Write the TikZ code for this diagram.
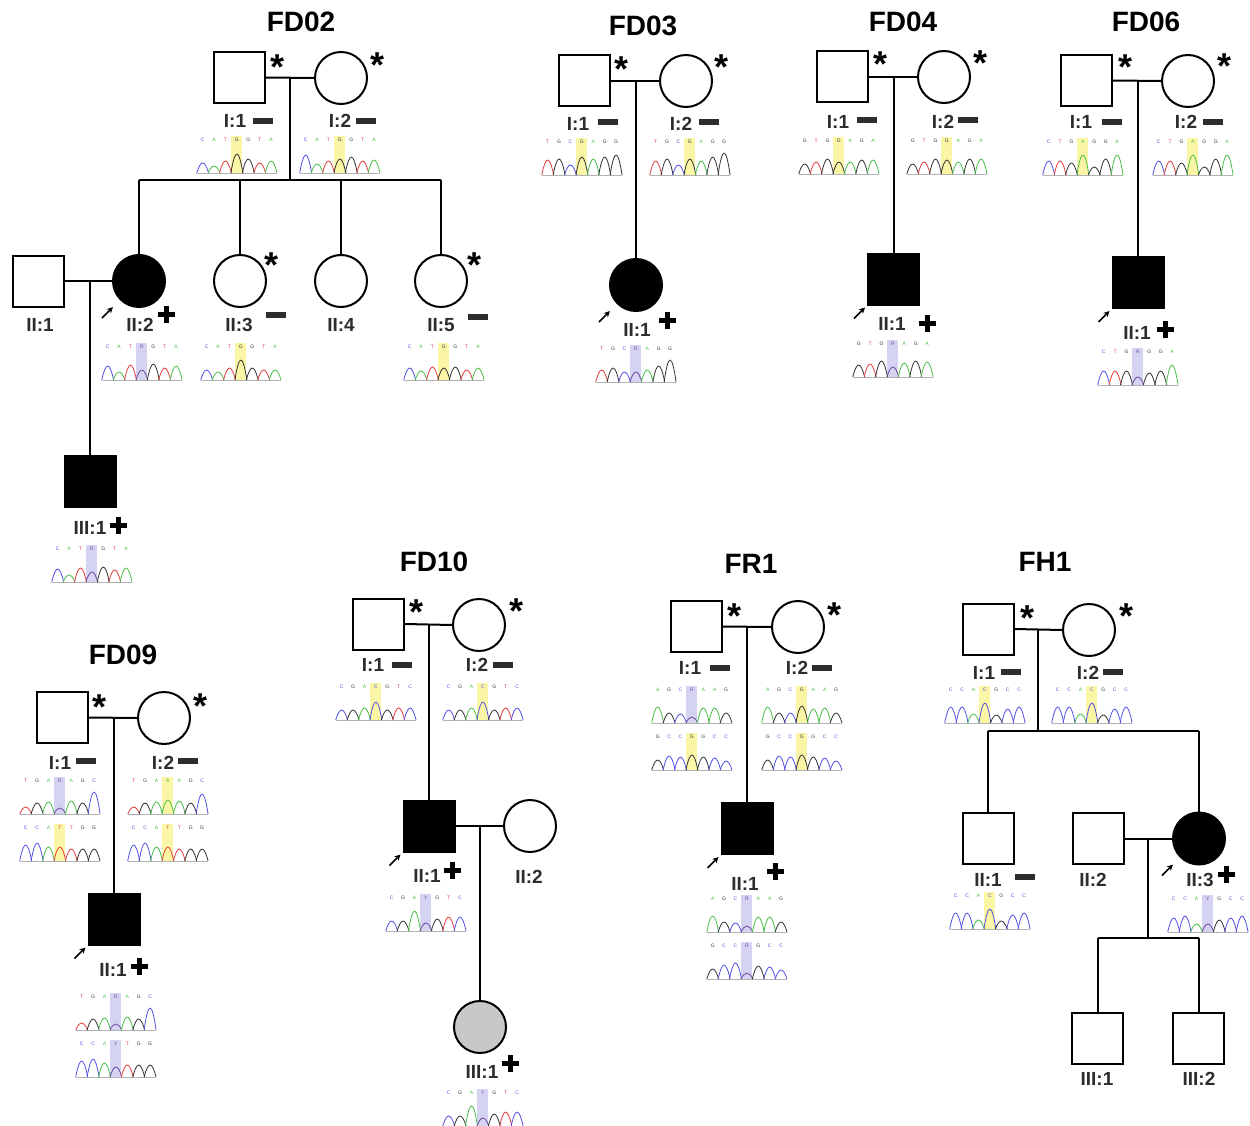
\documentclass[tikz,border=0pt]{standalone}
\usepackage{fontspec}
\setmainfont{Liberation Sans}
\usetikzlibrary{arrows.meta}
\definecolor{labgray}{RGB}{45,45,45}
\definecolor{hly}{RGB}{250,246,165}
\definecolor{hlb}{RGB}{212,212,242}
\definecolor{chA}{RGB}{70,190,70}
\definecolor{chC}{RGB}{80,80,230}
\definecolor{chG}{RGB}{50,50,50}
\definecolor{chT}{RGB}{230,60,60}
\definecolor{chR}{RGB}{110,70,160}
\definecolor{chY}{RGB}{110,70,160}
\definecolor{carriergray}{RGB}{200,200,200}
\newcommand\labfont{\fontsize{19}{19}\selectfont\bfseries}
\newcommand\ttlfont{\fontsize{28}{28}\selectfont\bfseries}
\newcommand\astfont{\fontsize{36}{36}\selectfont\bfseries}
\newcommand\tinyfont{\fontsize{5}{5}\selectfont}
\newcommand\chrom[4]{%
  \begin{scope}[shift={(#1,#2)}]
    \fill[#3] (34,0) rectangle (45,37);
    \draw[gray!60, line width=0.4pt] (0,37) -- (80,37);
    \foreach \l/\h [count=\i] in {#4} {
      \pgfmathsetmacro\cx{\i*11.4-5.7}
      \node[font=\tinyfont, text=ch\l, inner sep=0pt] at (\cx,4) {\l};
      \draw[ch\l, line width=0.8pt] (\cx-6,37) .. controls (\cx-1.8,{37-1.33*\h}) and (\cx+1.8,{37-1.33*\h}) .. (\cx+6,37);
    }
  \end{scope}}
\newcommand\mdash[2]{\fill[labgray] (#1-10,#2-2.6) rectangle (#1+10,#2+2.6);}
\newcommand\mplus[2]{\fill (#1-8.5,#2-2.5) rectangle (#1+8.5,#2+2.5); \fill (#1-2.5,#2-8.5) rectangle (#1+2.5,#2+8.5);}
\newcommand\astk[2]{\node[ast] at (#1,#2+21) {*};}
\tikzset{
  male/.style={draw, rectangle, line width=2pt, minimum size=51pt, inner sep=0pt, fill=white},
  female/.style={draw, circle, line width=2pt, minimum size=52pt, inner sep=0pt, fill=white},
  aff/.style={fill=black},
  carrier/.style={fill=carriergray},
  lab/.style={font=\labfont, text=labgray, inner sep=0pt},
  ttl/.style={font=\ttlfont, text=black, inner sep=0pt},
  ast/.style={font=\astfont, inner sep=0pt, anchor=base},
  conn/.style={line width=2pt},
  parrow/.style={line width=1.6pt, -{Stealth[length=6pt,width=6pt]}}
}
\newcommand\probsq[1]{\draw[parrow] ([shift={(-13,13)}]#1.south west) -- ([shift={(-2,2)}]#1.south west);}
\newcommand\probci{}
\renewcommand\probci[1]{\draw[parrow] ([shift={(-18,18)}]#1.south west) -- ([shift={(-7,7)}]#1.south west);}
\begin{document}
\begin{tikzpicture}[x=1pt,y=-1pt]
\fill[white] (0,0) rectangle (1250,1126);
\useasboundingbox (0,0) rectangle (1250,1126);

% ================= FD02 =================
\node[ttl] (tA) at (301,22) {FD02};
\node[male] (a11) at (239.5,77.5) {};
\node[female] (a12) at (341,78) {};
\coordinate (a1m) at (290,78);
\coordinate (a1s) at (290,180);
\draw[conn] (a11.east) -- (a12.west);
\draw[conn] (a1m) -- (a1s);
\node[female,aff] (a22) at (139,281) {};
\node[female] (a23) at (240,281) {};
\node[female] (a24) at (341,281) {};
\node[female] (a25) at (441,281) {};
\node[male] (a21) at (38,281) {};
\draw[conn] (a22.north |- a1s) -- (a25.north |- a1s);
\foreach \c in {a22,a23,a24,a25} \draw[conn] (\c.north |- a1s) -- (\c.north);
\draw[conn] (a21.east) -- (a22.west);
\coordinate (a2m) at (90,281);
\node[male,aff] (a31) at (90,481) {};
\draw[conn] (a2m) -- (a31.north);
\probci{a22}
\astk{278}{59}
\astk{377}{57}
\astk{272}{256}
\astk{474}{256}
\node[lab] (la11) at (235,121) {I:1}; \mdash{263}{121}
\node[lab] (la12) at (340,121) {I:2}; \mdash{366}{121}
\node[lab] (la21) at (40,325) {II:1};
\node[lab] (la22) at (140,325) {II:2}; \mplus{166}{314}
\node[lab] (la23) at (239,325) {II:3}; \mdash{276}{315}
\node[lab] (la24) at (341,325) {II:4};
\node[lab] (la25) at (441,325) {II:5}; \mdash{478}{317}
\node[lab] (la31) at (90,528) {III:1}; \mplus{118}{525}
\chrom{197}{136}{hly}{C/10,A/7,T/12,G/19,G/14,T/10,A/12}
\chrom{300}{136}{hly}{C/18,A/9,T/12,G/14,G/16,T/12,A/13}
\chrom{102}{343}{hlb}{C/14,A/8,T/15,R/10,G/16,T/12,A/14}
\chrom{201}{343}{hly}{C/10,A/8,T/12,G/20,G/12,T/10,A/10}
\chrom{404}{343}{hly}{C/12,A/9,T/13,G/12,G/13,T/10,A/12}
\chrom{52}{545}{hlb}{C/13,A/7,T/14,R/10,G/15,T/12,A/14}

% ================= FD03 =================
\node[ttl] (tB) at (643,26) {FD03};
\node[male] (b11) at (584,81) {};
\node[female] (b12) at (686,81) {};
\coordinate (b1m) at (636,81);
\draw[conn] (b11.east) -- (b12.west);
\node[female,aff] (b21) at (636,285) {};
\draw[conn] (b1m) -- (b21.north);
\probci{b21}
\astk{621}{61}
\astk{721}{59}
\node[lab] (lb11) at (578,124) {I:1}; \mdash{608}{122}
\node[lab] (lb12) at (681,124) {I:2}; \mdash{709}{122}
\node[lab] (lb21) at (637,330) {II:1}; \mplus{667}{320}
\chrom{542}{138}{hly}{T/15,G/16,C/10,G/18,A/16,G/18,G/20}
\chrom{650}{138}{hly}{T/14,G/16,C/10,G/16,A/14,G/18,G/22}
\chrom{596}{345}{hlb}{T/12,G/14,C/10,R/10,A/12,G/16,G/22}

% ================= FD04 =================
\node[ttl] (tC) at (903,22) {FD04};
\node[male] (c11) at (842.5,77) {};
\node[female] (c12) at (944,77) {};
\coordinate (c1m) at (893.5,77);
\draw[conn] (c11.east) -- (c12.west);
\node[male,aff] (c21) at (893.5,279) {};
\draw[conn] (c1m) -- (c21.north);
\probsq{c21}
\astk{880}{56}
\astk{980}{55}
\node[lab] (lc11) at (838,122) {I:1}; \mdash{867}{120}
\node[lab] (lc12) at (943,122) {I:2}; \mdash{968}{120}
\node[lab] (lc21) at (892,324) {II:1}; \mplus{927}{323}
\chrom{799}{137}{hly}{G/10,T/12,G/15,G/12,A/12,G/14,A/14}
\chrom{907}{137}{hly}{G/10,T/12,G/15,G/14,A/12,G/15,A/15}
\chrom{853}{340}{hlb}{G/12,T/13,G/16,R/10,A/14,G/16,A/15}

% ================= FD06 =================
\node[ttl] (tD) at (1146,22) {FD06};
\node[male] (d11) at (1086.5,80.5) {};
\node[female] (d12) at (1188,81) {};
\coordinate (d1m) at (1138,81);
\draw[conn] (d11.east) -- (d12.west);
\node[male,aff] (d21) at (1138,282.5) {};
\draw[conn] (d1m) -- (d21.north);
\probsq{d21}
\astk{1125}{59}
\astk{1224}{58}
\node[lab] (ld11) at (1081,122) {I:1}; \mdash{1112}{122}
\node[lab] (ld12) at (1186,122) {I:2}; \mdash{1213}{122}
\node[lab] (ld21) at (1137,333) {II:1}; \mplus{1165}{329}
\chrom{1043}{138}{hly}{C/14,T/14,G/12,A/20,G/8,G/16,A/20}
\chrom{1153}{138}{hly}{C/14,T/14,G/12,A/20,G/8,G/16,A/20}
\chrom{1098}{348}{hlb}{C/14,T/14,G/14,R/8,G/12,G/14,A/20}

% ================= FD09 =================
\node[ttl] (tE) at (123,655) {FD09};
\node[male] (e11) at (62.5,717.5) {};
\node[female] (e12) at (164,718) {};
\coordinate (e1m) at (114,718);
\draw[conn] (e11.east) -- (e12.west);
\node[male,aff] (e21) at (114,919) {};
\draw[conn] (e1m) -- (e21.north);
\probsq{e21}
\astk{100}{698}
\astk{201}{697}
\node[lab] (le11) at (60,763) {I:1}; \mdash{86}{761}
\node[lab] (le12) at (163,763) {I:2}; \mdash{188}{761}
\node[lab] (le21) at (113,970) {II:1}; \mplus{139}{966}
\chrom{20}{777}{hlb}{T/7,G/11,A/12,R/6,A/13,G/11,C/22}
\chrom{20}{824}{hly}{C/16,C/18,A/14,T/14,T/12,G/12,G/12}
\chrom{128}{777}{hly}{T/7,G/11,A/12,A/14,A/13,G/11,C/20}
\chrom{128}{824}{hly}{C/16,C/18,A/14,T/14,T/12,G/12,G/12}
\chrom{76}{993}{hlb}{T/7,G/11,A/12,R/6,A/13,G/11,C/22}
\chrom{76}{1040}{hlb}{C/16,C/18,A/14,Y/10,T/12,G/12,G/12}

% ================= FD10 =================
\node[ttl] (tF) at (434,562) {FD10};
\node[male] (f11) at (378.5,624) {};
\node[female] (f12) at (479,625) {};
\coordinate (f1m) at (429,625);
\draw[conn] (f11.east) -- (f12.west);
\node[male,aff] (f21) at (429,826) {};
\draw[conn] (f1m) -- (f21.north);
\node[female] (f22) at (530,826) {};
\draw[conn] (f21.east) -- (f22.west);
\coordinate (f2m) at (480,826);
\node[female,carrier] (f31) at (480,1027) {};
\draw[conn] (f2m) -- (f31.north);
\probsq{f21}
\astk{416}{603}
\astk{516}{602}
\node[lab] (lf11) at (373,665) {I:1}; \mdash{402}{665}
\node[lab] (lf12) at (477,665) {I:2}; \mdash{503}{665}
\node[lab] (lf21) at (427,876) {II:1}; \mplus{452}{870}
\node[lab] (lf22) at (529,877) {II:2};
\node[lab] (lf31) at (482,1072) {III:1}; \mplus{510}{1063}
\chrom{336}{683}{hly}{C/10,G/10,A/12,C/18,G/10,T/12,C/12}
\chrom{443}{683}{hly}{C/10,G/10,A/12,C/18,G/10,T/12,C/12}
\chrom{386}{894}{hlb}{C/10,G/10,A/20,Y/8,G/12,T/14,C/14}
\chrom{443}{1089}{hlb}{C/10,G/10,A/20,Y/8,G/12,T/14,C/14}

% ================= FR1 =================
\node[ttl] (tG) at (751,564) {FR1};
\node[male] (g11) at (696.5,626.5) {};
\node[female] (g12) at (798,627) {};
\coordinate (g1m) at (747,627);
\draw[conn] (g11.east) -- (g12.west);
\node[male,aff] (g21) at (747,828.5) {};
\draw[conn] (g1m) -- (g21.north);
\probsq{g21}
\astk{734}{607}
\astk{834}{606}
\node[lab] (lg11) at (690,668) {I:1}; \mdash{720}{668}
\node[lab] (lg12) at (797,668) {I:2}; \mdash{822}{668}
\node[lab] (lg21) at (745,884) {II:1}; \mplus{775}{871}
\chrom{652}{686}{hlb}{A/16,G/10,C/9,R/6,A/15,A/15,G/10}
\chrom{652}{733}{hly}{G/10,C/14,C/13,G/15,G/13,C/12,C/9}
\chrom{762}{686}{hly}{A/16,G/10,C/10,G/17,A/14,A/15,G/10}
\chrom{762}{733}{hly}{G/10,C/14,C/13,G/15,G/13,C/12,C/9}
\chrom{707}{895}{hlb}{A/16,G/10,C/9,R/6,A/15,A/15,G/10}
\chrom{707}{942}{hlb}{G/10,C/14,C/16,R/6,G/13,C/12,C/9}

% ================= FH1 =================
\node[ttl] (tH) at (1045,562) {FH1};
\node[male] (h11) at (988,629) {};
\node[female] (h12) at (1089,630) {};
\coordinate (h1m) at (1038,630);
\coordinate (h1s) at (1038,731);
\draw[conn] (h11.east) -- (h12.west);
\draw[conn] (h1m) -- (h1s);
\node[male] (h21) at (988,838.5) {};
\node[male] (h22) at (1098,838.5) {};
\node[female,aff] (h23) at (1199,838.5) {};
\draw[conn] (h21.north |- h1s) -- (h23.north |- h1s);
\draw[conn] (h21.north |- h1s) -- (h21.north);
\draw[conn] (h23.north |- h1s) -- (h23.north);
\draw[conn] (h22.east) -- (h23.west);
\coordinate (h2m) at (1148,838.5);
\coordinate (h2s) at (1148,938);
\draw[conn] (h2m) -- (h2s);
\node[male] (h31) at (1097.5,1038.5) {};
\node[male] (h32) at (1198.5,1038.5) {};
\draw[conn] (h31.north |- h2s) -- (h32.north |- h2s);
\draw[conn] (h31.north |- h2s) -- (h31.north);
\draw[conn] (h32.north |- h2s) -- (h32.north);
\probci{h23}
\astk{1027}{609}
\astk{1126}{607}
\node[lab] (lh11) at (984,673) {I:1}; \mdash{1011}{672}
\node[lab] (lh12) at (1088,673) {I:2}; \mdash{1113}{672}
\node[lab] (lh21) at (988,880) {II:1}; \mdash{1025}{877}
\node[lab] (lh22) at (1093,880) {II:2};
\node[lab] (lh23) at (1200,880) {II:3}; \mplus{1226}{874}
\node[lab] (lh31) at (1097,1079) {III:1};
\node[lab] (lh32) at (1199,1079) {III:2};
\chrom{945}{686}{hly}{C/16,C/16,A/9,C/20,G/8,C/14,C/16}
\chrom{1052}{686}{hly}{C/16,C/16,A/9,C/20,G/8,C/14,C/16}
\chrom{950}{892}{hly}{C/16,C/16,A/9,C/20,G/8,C/14,C/16}
\chrom{1168}{895}{hlb}{C/14,C/16,A/8,Y/8,G/12,C/14,C/16}
\end{tikzpicture}
\end{document}
